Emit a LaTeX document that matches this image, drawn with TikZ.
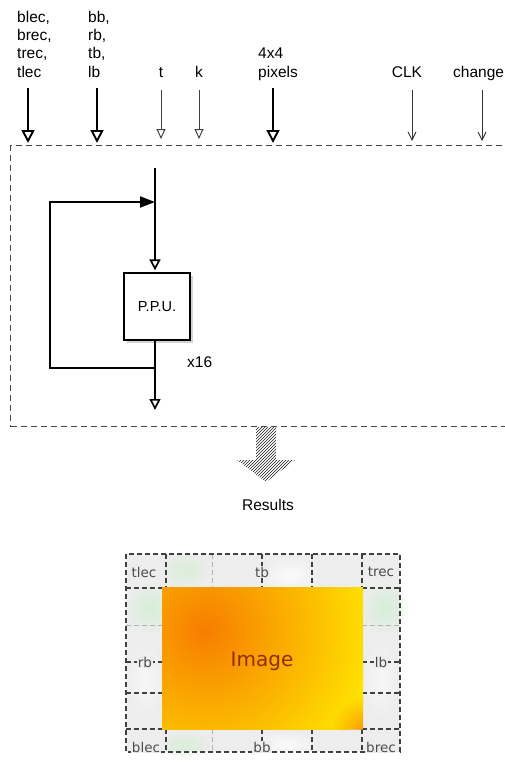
\documentclass[tikz,border=0pt]{standalone}
\usepackage{fontspec}
\setmainfont{Liberation Sans}
\newfontfamily\gridfont{DejaVu Sans}
\usetikzlibrary{arrows.meta,patterns,shadows,fadings}
\tikzfading[name=softspot, inner color=transparent!0, outer color=transparent!100]
\definecolor{framegray}{RGB}{70,70,70}
\definecolor{cellbg}{RGB}{236,237,236}
\definecolor{imgorange}{RGB}{247,125,0}
\definecolor{imgyellow}{RGB}{255,230,0}
\definecolor{imgtext}{RGB}{145,45,5}
\begin{document}
\begin{tikzpicture}[x=1pt,y=-1pt,
  lab/.style={font=\fontsize{15.5}{18}\selectfont, inner sep=0pt, text=black},
  thickarr/.style={line width=2.5pt, -{Triangle[open,length=13pt,width=13pt,line width=1.9pt]}},
  thinarr/.style={line width=1pt, draw=black!75, -{Triangle[open,length=10pt,width=9pt,line width=1pt]}},
  barbarr/.style={line width=1pt, draw=black!80, -{Straight Barb[length=8pt,width=8pt]}},
  medarr/.style={line width=2.1pt, -{Triangle[open,length=11pt,width=11pt,line width=1.7pt]}},
  fbarr/.style={line width=2.1pt, -{Triangle[length=15pt,width=11pt]}},
  framebox/.style={draw=framegray, line width=1.4pt, dash pattern=on 6pt off 4pt, anchor=north west, inner sep=0pt},
  ppubox/.style={draw, fill=white, line width=1.3pt, minimum width=66pt, minimum height=67pt, inner sep=0pt,
    font=\fontsize{14.5}{17}\selectfont, drop shadow={shadow xshift=2.5pt, shadow yshift=-3pt, opacity=0.35}},
  griddash/.style={draw=black!75, line width=1.2pt, dash pattern=on 5pt off 3pt},
  gridfaint/.style={draw=black!30, line width=0.8pt, dash pattern=on 5pt off 3pt},
  gridlab/.style={font=\gridfont\fontsize{13.5}{16}\selectfont, text=black!70, fill=cellbg, inner sep=1pt}
]
\useasboundingbox (0,0) rectangle (505,764);
\clip (0,0) rectangle (505,764);

% ---------- top labels ----------
\node[lab, anchor=base west] (l1a) at (17,22) {blec,};
\node[lab, anchor=base west] (l1b) at (17,40.3) {brec,};
\node[lab, anchor=base west] (l1c) at (17,58.7) {trec,};
\node[lab, anchor=base west] (l1d) at (17,77) {tlec};
\node[lab, anchor=base west] (l2a) at (88,22) {bb,};
\node[lab, anchor=base west] (l2b) at (88,40.3) {rb,};
\node[lab, anchor=base west] (l2c) at (88,58.7) {tb,};
\node[lab, anchor=base west] (l2d) at (88,77) {lb};
\node[lab, anchor=base] (lt) at (161,77) {t};
\node[lab, anchor=base] (lk) at (199,77) {k};
\node[lab, anchor=base west] (l4a) at (258,58.7) {4x4};
\node[lab, anchor=base west] (l4b) at (258,77) {pixels};
\node[lab, anchor=base] (lclk) at (407,77) {CLK};
\node[lab, anchor=base west] (lch) at (453,77) {change};

% ---------- frame ----------
\node[framebox, minimum width=515pt, minimum height=281pt] (frame) at (10,145) {};

% ---------- input arrows ----------
\coordinate (s1) at (28,88);
\coordinate (s2) at (97,88);
\coordinate (s3) at (161,90);
\coordinate (s4) at (199,90);
\coordinate (s5) at (273,88);
\coordinate (s6) at (412,90);
\coordinate (s7) at (482,90);
\draw[thickarr, shorten >=2pt] (s1) -- (s1 |- frame.north);
\draw[thickarr, shorten >=2pt] (s2) -- (s2 |- frame.north);
\draw[thinarr, shorten >=6pt] (s3) -- (s3 |- frame.north);
\draw[thinarr, shorten >=6pt] (s4) -- (s4 |- frame.north);
\draw[thickarr, shorten >=2pt] (s5) -- (s5 |- frame.north);
\draw[barbarr, shorten >=4pt] (s6) -- (s6 |- frame.north);
\draw[barbarr, shorten >=4pt] (s7) -- (s7 |- frame.north);

% ---------- processing unit ----------
\node[ppubox] (ppu) at (157,306.5) {P.P.U.};
\coordinate (vin) at (155,168);
\coordinate (join) at (155,202);
\coordinate (split) at (155,368);
\coordinate (vout) at (155,410);
\coordinate (fbc1) at (50,368);
\coordinate (fbc2) at (50,202);
\draw[medarr, shorten >=2pt] (vin) -- (vin |- ppu.north);
\draw[line width=2.1pt] (vin |- ppu.south) -- (split);
\draw[medarr] (split) -- (vout);
\draw[fbarr] (split) -- (fbc1) -- (fbc2) -- (join);
\node[lab, anchor=west] (x16) at (187,362) {x16};

% ---------- results arrow ----------
\fill[pattern=north east lines, pattern color=black!90]
  (256,427) -- (276,427) -- (276,460) -- (295,460) -- (266,482) -- (237,460) -- (256,460) -- cycle;
\node[lab, anchor=base] (res) at (268,510) {Results};

% ---------- image grid ----------
\fill[cellbg] (126,554) rectangle (400,752);
\fill[white, opacity=0.8, path fading=softspot] (290,575) ellipse (35pt and 20pt);
\fill[white, opacity=0.8, path fading=softspot] (285,745) ellipse (35pt and 15pt);
\fill[white, opacity=0.6, path fading=softspot] (145,680) ellipse (20pt and 40pt);
\fill[white, opacity=0.6, path fading=softspot] (381,680) ellipse (20pt and 40pt);
\fill[green!12!cellbg, opacity=0.8, path fading=softspot] (150,608) ellipse (25pt and 25pt);
\fill[green!12!cellbg, opacity=0.8, path fading=softspot] (385,608) ellipse (25pt and 25pt);
\fill[green!12!cellbg, opacity=0.7, path fading=softspot] (185,570) ellipse (25pt and 18pt);
\fill[green!12!cellbg, opacity=0.7, path fading=softspot] (185,745) ellipse (25pt and 15pt);
% faint lines
\draw[gridfaint] (212,554) -- (212,588);
\draw[gridfaint] (212,729) -- (212,752);
\draw[gridfaint] (126,625) -- (166,625);
\draw[gridfaint] (362,625) -- (400,625);
% main dashed lines
\draw[griddash] (126,554) rectangle (400,752);
\draw[griddash] (166,554) -- (166,588);
\draw[griddash] (362,554) -- (362,588);
\draw[griddash] (166,729) -- (166,752);
\draw[griddash] (362,729) -- (362,752);
\draw[griddash] (126,588) -- (166,588);
\draw[griddash] (362,588) -- (400,588);
\draw[griddash] (126,693) -- (166,693);
\draw[griddash] (362,693) -- (400,693);
\draw[griddash] (126,729) -- (166,729);
\draw[griddash] (362,729) -- (400,729);
\draw[griddash] (262,554) -- (262,588);
\draw[griddash] (262,729) -- (262,752);
\draw[griddash] (312,554) -- (312,588);
\draw[griddash] (312,729) -- (312,752);
\draw[griddash] (126,662) -- (166,662);
\draw[griddash] (362,662) -- (400,662);

% image
\begin{scope}
  \clip (162,587) rectangle (363,729);
  \fill[imgyellow] (162,587) rectangle (363,729);
  \shade[inner color=imgorange, outer color=imgyellow] (205,630) circle (175pt);
  \fill[imgorange, opacity=0.85, path fading=softspot] (368,734) circle (38pt);
\end{scope}
\node[font=\gridfont\fontsize{20}{24}\selectfont, text=imgtext] (img) at (262,661) {Image};

% cell labels
\node[gridlab] (ctlec) at (144,572) {tlec};
\node[gridlab] (ctb) at (262,572) {tb};
\node[gridlab] (ctrec) at (381,572) {trec};
\node[gridlab] (crb) at (145,662) {rb};
\node[gridlab] (clb) at (381,662) {lb};
\node[gridlab] (cblec) at (146,747) {blec};
\node[gridlab] (cbb) at (262,747) {bb};
\node[gridlab] (cbrec) at (381,747) {brec};
\end{tikzpicture}
\end{document}
